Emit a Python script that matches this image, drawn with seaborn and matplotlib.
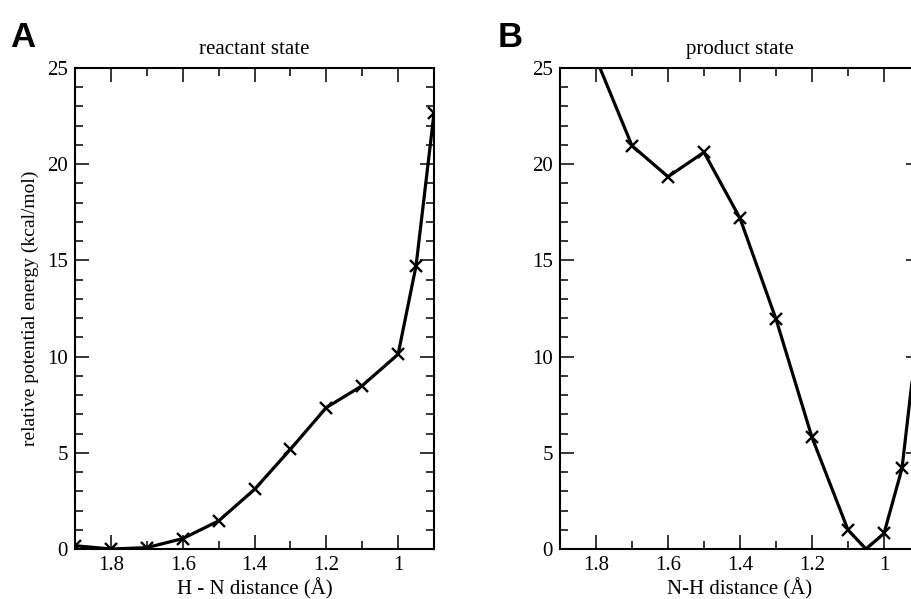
import numpy as np
import pandas as pd
import matplotlib
matplotlib.use('Agg')
import matplotlib.pyplot as plt
from matplotlib.ticker import MultipleLocator
import seaborn as sns

# H - N distance scan, reactant state
react_dist = [1.9, 1.8, 1.7, 1.6, 1.5, 1.4, 1.3, 1.2, 1.1, 1.0, 0.95, 0.9]
react_energy = [0.17, 0.0, 0.07, 0.54, 1.46, 3.1, 5.18, 7.35, 8.49, 10.12, 14.72, 22.64]

# N-H distance scan, product state
prod_dist = [1.8, 1.7, 1.6, 1.5, 1.4, 1.3, 1.2, 1.1, 1.05, 1.0, 0.95, 0.9]
prod_energy = [25.5, 20.96, 19.35, 20.62, 17.19, 11.95, 5.8, 0.99, 0.0, 0.81, 4.19, 12.3]

titles = ['reactant state', 'product state']
xlabels = ['H - N distance (Å)', 'N-H distance (Å)']
ylabel = 'relative potential energy (kcal/mol)'
panel_tags = ['A', 'B']

sns.set_theme(style='ticks')
plt.rcParams['font.family'] = ['Liberation Serif', 'DejaVu Serif']

fig = plt.figure(figsize=(9.12, 5.99), dpi=100)
ax_a = fig.add_axes([75 / 912, 50 / 599, 359 / 912, 481 / 599])
ax_b = fig.add_axes([560 / 912, 50 / 599, 360 / 912, 481 / 599])

frames = [
    pd.DataFrame({'dist': react_dist, 'energy': react_energy}),
    pd.DataFrame({'dist': prod_dist, 'energy': prod_energy}),
]

for i, (ax, df) in enumerate(zip([ax_a, ax_b], frames)):
    sns.lineplot(data=df, x='dist', y='energy', ax=ax, sort=False,
                 color='black', linewidth=2.3, marker='x', markersize=8,
                 markeredgewidth=1.7, markeredgecolor='black')
    ax.set_xlim(1.9, 0.9)
    ax.set_ylim(0, 25)
    ax.xaxis.set_major_locator(MultipleLocator(0.2))
    ax.xaxis.set_minor_locator(MultipleLocator(0.1))
    ax.yaxis.set_major_locator(MultipleLocator(5))
    ax.yaxis.set_minor_locator(MultipleLocator(1))
    ax.xaxis.set_major_formatter(lambda v, p: f'{v:g}')
    ax.tick_params(which='both', direction='in', top=True, right=True,
                   color='black', labelsize=15, labelcolor='black')
    ax.tick_params(which='major', length=10, width=1.1, pad=5)
    ax.tick_params(which='minor', length=5.5, width=1.1)
    for sp in ax.spines.values():
        sp.set_linewidth(1.5)
        sp.set_color('black')
    ax.set_title(titles[i], fontsize=15, pad=10, color='black')
    ax.set_xlabel(xlabels[i], fontsize=15, labelpad=2, color='black')
    ax.set_ylabel('')
    ax.grid(False)

ax_a.set_ylabel(ylabel, fontsize=14, labelpad=6, color='black')

fig.text(10 / 912, 1 - 47 / 599, panel_tags[0], fontsize=25, fontweight='bold',
         family='Liberation Sans', color='black', va='baseline', ha='left')
fig.text(498 / 912, 1 - 47 / 599, panel_tags[1], fontsize=25, fontweight='bold',
         family='Liberation Sans', color='black', va='baseline', ha='left')

fig.savefig('out.png', dpi=100)
